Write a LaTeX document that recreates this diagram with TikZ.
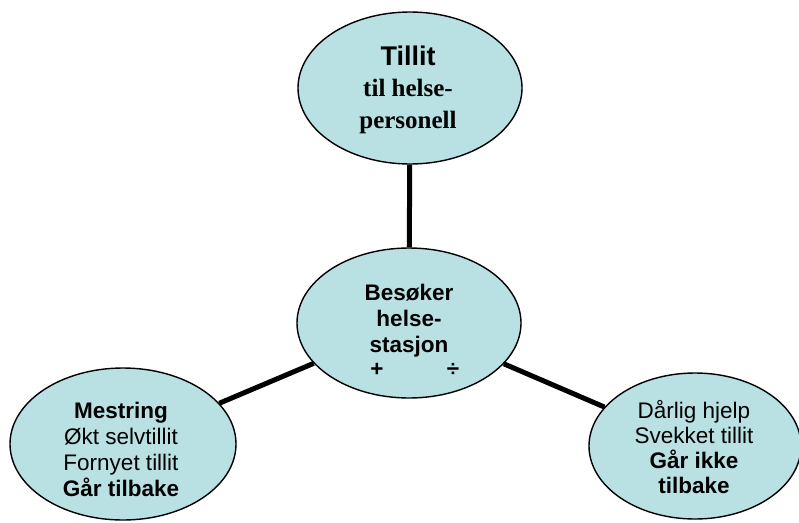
\documentclass[tikz,border=0pt]{standalone}
\usepackage{fontspec}
\setmainfont{Liberation Serif}
\setsansfont{Liberation Sans}
\usetikzlibrary{shapes.geometric}
\definecolor{bubblefill}{HTML}{B9E0E3}
\tikzset{
  bubble/.style={ellipse, draw=black, line width=1.4pt, fill=bubblefill, inner sep=0pt},
  link/.style={line width=5pt, black},
  txt/.style={align=center, inner sep=0pt, text=black}
}
\begin{document}
\begin{tikzpicture}[x=1pt, y=-1pt]
\useasboundingbox (0,0) rectangle (799,522);
% ellipses
\node[bubble, minimum width=224pt, minimum height=152pt] (top) at (410,88) {};
\node[bubble, minimum width=224pt, minimum height=150pt] (mid) at (409,323) {};
\node[bubble, minimum width=226pt, minimum height=152pt] (left) at (123,444) {};
\node[bubble, minimum width=212pt, minimum height=146pt] (right) at (695,446) {};
% connectors
\draw[link] (top) -- (mid);
\draw[link] (left) -- (mid);
\draw[link] (right) -- (mid);
% texts (anchor=base is the baseline of the last line)
\node[txt, font=\bfseries\fontsize{25}{31.5}\selectfont, anchor=base] (toptext) at (408,128)
  {{\sffamily\fontsize{27}{31.5}\selectfont Tillit}\\ til helse-\\ personell};
\node[txt, font=\sffamily\bfseries\fontsize{22.5}{26}\selectfont, anchor=base] (midtext) at (409,352)
  {Besøker\\ helse-\\ stasjon};
\node[txt, font=\sffamily\bfseries\fontsize{22.5}{26}\selectfont, anchor=base] (plus) at (377,376) {+};
\node[txt, font=\sffamily\bfseries\fontsize{22.5}{26}\selectfont, anchor=base] (div) at (453,376) {÷};
\node[txt, font=\sffamily\fontsize{22.5}{26}\selectfont, anchor=base] (lefttext) at (121,496)
  {\textbf{Mestring}\\ Økt selvtillit\\ Fornyet tillit\\ \textbf{Går tilbake}};
\node[txt, font=\sffamily\fontsize{22.5}{25}\selectfont, anchor=base] (righttext) at (694,493)
  {Dårlig hjelp\\ Svekket tillit\\ \textbf{Går ikke}\\ \textbf{tilbake}};
\end{tikzpicture}
\end{document}
